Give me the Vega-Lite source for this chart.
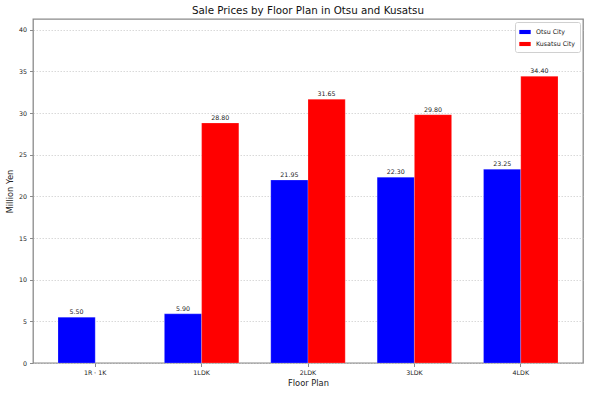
{
  "$schema": "https://vega.github.io/schema/vega-lite/v6.json",
  "autosize": "none",
  "padding": {"left": 33, "top": 19, "right": 8, "bottom": 31},
  "width": 550,
  "height": 344,
  "background": "white",
  "config": {
    "font": "DejaVu Sans",
    "view": {"stroke": "#8a8a8a", "strokeWidth": 1.3},
    "axis": {"domain": false, "tickColor": "#8a8a8a", "tickSize": 3.5, "labelColor": "#222", "titleColor": "#222", "titleFontWeight": "normal"}
  },
  "title": {"text": "Sale Prices by Floor Plan in Otsu and Kusatsu", "fontSize": 10.3, "fontWeight": "normal", "color": "#111", "anchor": "middle", "offset": 3},
  "data": {"values": [
    {"plan": "1R・1K", "city": "Otsu City", "price": 5.50},
    {"plan": "1LDK", "city": "Otsu City", "price": 5.90},
    {"plan": "1LDK", "city": "Kusatsu City", "price": 28.80},
    {"plan": "2LDK", "city": "Otsu City", "price": 21.95},
    {"plan": "2LDK", "city": "Kusatsu City", "price": 31.65},
    {"plan": "3LDK", "city": "Otsu City", "price": 22.30},
    {"plan": "3LDK", "city": "Kusatsu City", "price": 29.80},
    {"plan": "4LDK", "city": "Otsu City", "price": 23.25},
    {"plan": "4LDK", "city": "Kusatsu City", "price": 34.40}
  ]},
  "encoding": {
    "x": {"field": "plan", "type": "nominal", "sort": ["1R・1K", "1LDK", "2LDK", "3LDK", "4LDK"],
      "scale": {"paddingInner": 0.3, "paddingOuter": 0.235},
      "axis": {"title": "Floor Plan", "labelAngle": 0, "labelFontSize": 6.3, "titleFontSize": 8.3, "labelPadding": 3, "titlePadding": 3}},
    "xOffset": {"field": "city", "type": "nominal", "sort": ["Otsu City", "Kusatsu City"], "scale": {"paddingInner": 0, "paddingOuter": 0}},
    "y": {"field": "price", "type": "quantitative", "scale": {"domain": [0, 41.28], "nice": false},
      "axis": {"title": "Million Yen", "values": [0, 5, 10, 15, 20, 25, 30, 35, 40], "labelFontSize": 6.3, "titleFontSize": 8.3,
        "grid": true, "gridColor": "#c8c8c8", "gridDash": [1.5, 1.5], "gridWidth": 0.7, "labelPadding": 3, "titlePadding": 4}}
  },
  "layer": [
    {
      "mark": {"type": "bar", "stroke": "white", "strokeWidth": 0.4, "strokeOpacity": 0.5},
      "encoding": {
        "color": {"field": "city", "type": "nominal", "sort": ["Otsu City", "Kusatsu City"],
          "scale": {"domain": ["Otsu City", "Kusatsu City"], "range": ["#0000ff", "#ff0000"]},
          "legend": {"title": null, "orient": "top-right", "offset": 3, "labelFontSize": 6.3, "labelColor": "#222",
            "symbolType": "M-1,-0.36L1,-0.36L1,0.36L-1,0.36Z", "symbolSize": 130, "symbolStrokeWidth": 0,
            "strokeColor": "#d0d0d0", "fillColor": "white", "padding": 4, "cornerRadius": 2, "rowPadding": 2, "labelOffset": 5}}
      }
    },
    {
      "mark": {"type": "text", "baseline": "bottom", "dy": -2, "fontSize": 6.3, "color": "#222"},
      "encoding": {"text": {"field": "price", "type": "quantitative", "format": ".2f"}}
    }
  ]
}
